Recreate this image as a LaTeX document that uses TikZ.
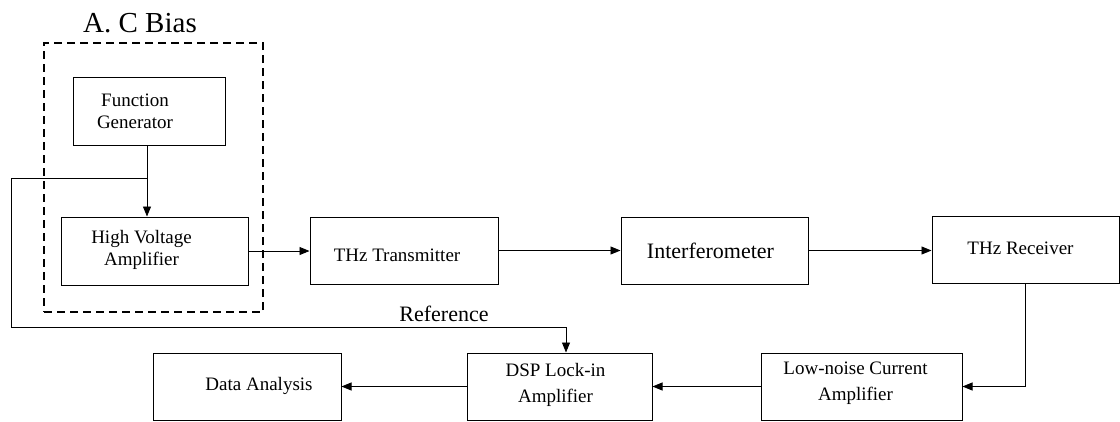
\documentclass[tikz,border=0pt]{standalone}
\usepackage{fontspec}
\setmainfont{Liberation Serif}
\usetikzlibrary{arrows.meta}
\begin{document}
\begin{tikzpicture}[x=1pt,y=-1pt,
  box/.style={draw, line width=1pt, inner sep=0pt, minimum height=67pt},
  bt/.style={align=center, inner sep=0pt, font=\fontsize{19}{22}\selectfont},
  lowbt/.style={bt, font=\fontsize{19}{26}\selectfont},
  bigbt/.style={bt, font=\fontsize{22}{26}\selectfont},
  conn/.style={line width=0.9pt},
  arr/.style={conn, -{Triangle[length=10pt,width=8pt]}},
  biasbox/.style={draw, dash pattern=on 8pt off 5pt, line width=1.8pt, inner sep=0pt},
]
\useasboundingbox (0,0) rectangle (1120,421);
% A.C bias group
\node[biasbox, minimum width=219pt, minimum height=269pt] (bias) at (153.5,177.5) {};
\node[font=\fontsize{29}{34}\selectfont, inner sep=0pt] (title) at (140,23) {A. C Bias};
\node[box, minimum width=152pt, minimum height=68pt,
  label={[bt, xshift=-14pt]center:Function\\Generator}] (fg) at (149,111) {};
\node[box, minimum width=187pt, minimum height=68pt,
  label={[bt, xshift=-13pt, yshift=1pt]center:High Voltage\\Amplifier}] (hv) at (154.5,251) {};
% top row
\node[box, minimum width=188pt,
  label={[bt, xshift=-7pt, yshift=-5pt]center:THz Transmitter}] (tx) at (404,250.5) {};
\node[box, minimum width=187pt,
  label={[bigbt, xshift=-4pt]center:Interferometer}] (inf) at (714.5,250.5) {};
\node[box, minimum width=187pt,
  label={[bt, xshift=-5pt, yshift=1pt]center:THz Receiver}] (rx) at (1025.5,249.5) {};
% bottom row
\node[box, minimum width=201pt,
  label={[lowbt, xshift=-6pt, yshift=3pt]center:Low-noise Current\\Amplifier}] (ln) at (861.5,386.5) {};
\node[box, minimum width=185pt,
  label={[lowbt, xshift=-4pt, yshift=2pt]center:DSP Lock-in\\Amplifier}] (dsp) at (559.5,386.5) {};
\node[box, minimum width=188pt,
  label={[bt, xshift=12pt, yshift=1pt]center:Data Analysis}] (da) at (247,386.5) {};
% reference path
\coordinate (j) at (147,178);
\coordinate (r1) at (11,178);
\coordinate (r2) at (11,327);
\coordinate (r3) at (566,327);
\node[font=\fontsize{22}{26}\selectfont, inner sep=0pt] (reflbl) at (444,314) {Reference};
% connectors
\draw[arr] (fg.south -| j) -- (hv.north -| j);
\draw[arr] (j) -- (r1) -- (r2) -- (r3) -- (r3 |- dsp.north);
\draw[arr] (hv.east) -- (hv.east -| tx.west);
\draw[arr] (tx.east) -- (inf.west);
\draw[arr] (inf.east) -- (inf.east -| rx.west);
\draw[arr] (rx.south) -- (rx.south |- ln.east) -- (ln.east);
\draw[arr] (ln.west) -- (dsp.east);
\draw[arr] (dsp.west) -- (da.east);
\end{tikzpicture}
\end{document}
